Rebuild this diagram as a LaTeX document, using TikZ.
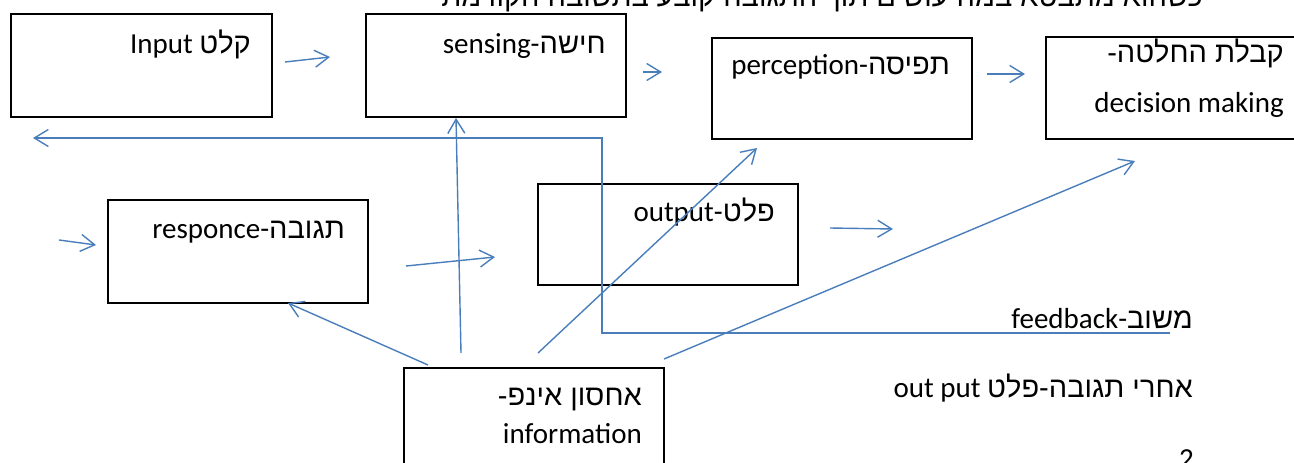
\documentclass[tikz,border=0pt]{standalone}
\usepackage{fontspec}
\setmainfont{Carlito}
\newfontfamily\lat{Carlito}
\newfontfamily\heb[Script=Hebrew]{Liberation Sans}
\TeXXeTstate=1
\usetikzlibrary{arrows.meta}
\definecolor{arrblue}{RGB}{74,126,187}
\begin{document}
\begin{tikzpicture}[x=1pt,y=-1pt,
  box/.style={draw=black, line width=1.6pt, inner sep=0pt, anchor=north west},
  lbl/.style={anchor=base east, inner sep=0pt, font=\fontsize{29}{34}\selectfont},
  arr/.style={draw=arrblue, line width=1.4pt, -{Straight Barb[length=14pt,width=17pt,line width=1.4pt]}},
  ln/.style={draw=arrblue, line width=1.4pt}]
\useasboundingbox (0,0) rectangle (1294,463);

% clipped header line
\node[lbl] (head) at (1203,6) {\heb\beginR כשהוא מתבטא במה עושים תוך התגובה קובע בתשובה הקודמת\endR};

% boxes
\node[box, minimum width=261pt, minimum height=103pt] (input) at (10,13) {};
\node[box, minimum width=260pt, minimum height=103pt] (sense) at (365,13) {};
\node[box, minimum width=260pt, minimum height=101pt] (perc) at (711,37) {};
\node[box, minimum width=270pt, minimum height=102pt] (dec) at (1045,36) {};
\node[box, minimum width=260pt, minimum height=103pt] (resp) at (107,199) {};
\node[box, minimum width=260pt, minimum height=101pt] (outp) at (537,183) {};
\node[box, minimum width=260pt, minimum height=110pt] (info) at (403,367) {};

% labels
\node[lbl] (tinput) at (251,53) {{\lat Input} \heb\beginR קלט\endR};
\node[lbl] (tsense) at (606,53) {{\lat sensing}-\heb\beginR חישה\endR};
\node[lbl] (tperc) at (950,74) {{\lat perception}-\heb\beginR תפיסה\endR};
\node[lbl] (tdec1) at (1284,62) {\heb\beginR קבלת החלטה-\endR};
\node[lbl] (tdec2) at (1284,112) {decision making};
\node[lbl] (tresp) at (345,238) {{\lat responce}-\heb\beginR תגובה\endR};
\node[lbl] (toutp) at (775,221) {{\lat output}-\heb\beginR פלט\endR};
\node[lbl] (tinfo1) at (642,405) {\heb\beginR אחסון אינפ-\endR};
\node[lbl] (tinfo2) at (642,443) {information};
\node[lbl] (tfeed) at (1193,328) {{\lat feedback}-\heb\beginR משוב\endR};
\node[lbl] (tafter) at (1193,397) {{\lat out put} \heb\beginR אחרי תגובה-פלט\endR};
\node[lbl] (ttwo) at (1194,468) {2};

% connector end points
\coordinate (a1) at (285,62);  \coordinate (a1e) at (330,57);
\coordinate (a2) at (643,72);  \coordinate (a2e) at (662,72);
\coordinate (a3) at (987,74);  \coordinate (a3e) at (1025,74);
\coordinate (a4) at (59,240);  \coordinate (a4e) at (96,245);
\coordinate (a5) at (406,266); \coordinate (a5e) at (495,257);
\coordinate (a6) at (830,228); \coordinate (a6e) at (893,229);
\coordinate (b1) at (428,365); \coordinate (b1e) at (288,303);
\coordinate (b2) at (461,353); \coordinate (b2e) at (456,118);
\coordinate (b3) at (538,353); \coordinate (b3e) at (757,148);
\coordinate (b4) at (664,359); \coordinate (b4e) at (1135,161);
\coordinate (fbR) at (1170,333); \coordinate (fbC) at (602,138); \coordinate (fbL) at (33,138);

% arrows
\draw[arr] (a1) -- (a1e);
\draw[arr] (a2) -- (a2e);
\draw[arr] (a3) -- (a3e);
\draw[arr] (a4) -- (a4e);
\draw[arr] (a5) -- (a5e);
\draw[arr] (a6) -- (a6e);
\draw[arr] (b1) -- (b1e);
\draw[arr] (b2) -- (b2e);
\draw[arr] (b3) -- (b3e);
\draw[arr] (b4) -- (b4e);
\draw[arr] (fbR) -| (fbC) -- (fbL);
\end{tikzpicture}
\end{document}
